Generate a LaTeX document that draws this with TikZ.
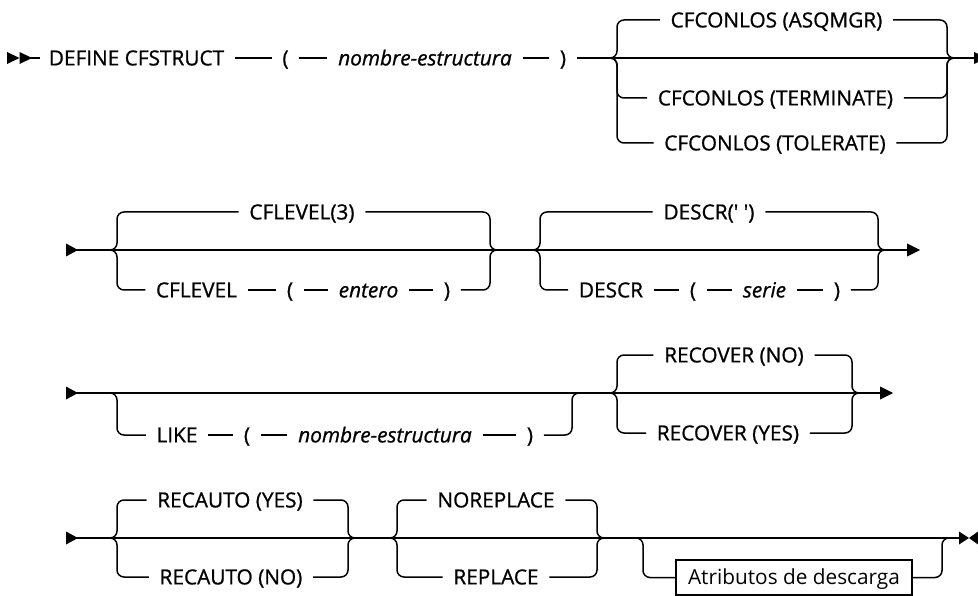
\documentclass[tikz,border=0pt]{standalone}
\usepackage{fontspec}
\setmainfont{Open Sans}[Ligatures=TeXOff]
\newfontfamily\kwfont{Open Sans}[Ligatures=TeXOff,FakeBold=0.9]
\newcommand{\lbranch}[2]{\draw[rc] ([xshift=-7pt]#1) -- (#1) -- (#1|-#2) -- ([xshift=-10pt]#2.west);}
\newcommand{\rbranch}[2]{\draw[rc] ([xshift=10pt]#2.east) -- (#1|-#2) -- (#1) -- ([xshift=7pt]#1);}
\begin{document}
\begin{tikzpicture}[x=1pt,y=-1pt,line width=1.5pt,
  kw/.style={font=\kwfont\fontsize{20.8}{24}\selectfont,inner sep=0pt,text height=14.8pt,text depth=0pt},
  var/.style={kw,font=\kwfont\fontsize{20.8}{24}\selectfont\itshape},
  boxed/.style={draw,line width=1.3pt,font=\fontsize{20.8}{24}\selectfont,inner xsep=7pt,minimum height=35pt,text height=14.8pt,text depth=0pt},
  rc/.style={rounded corners=7pt},
  seg/.style={shorten <=10pt,shorten >=10pt}]
\useasboundingbox (0,0) rectangle (978,596);

% ---------- row 1 ----------
\fill (7,52) -- (19.5,58) -- (7,64) -- cycle;
\fill (19.5,52) -- (32,58) -- (19.5,64) -- cycle;
\coordinate (st1) at (30,58);
\node[kw] (defn) at (136.5,58) {DEFINE CFSTRUCT};
\node[kw] (lp1) at (285.5,58) {(};
\node[var] (nom1) at (425,58) {nombre-estructura};
\node[kw] (rp1) at (563,58) {)};
\coordinate (e1) at (978,58);
\draw[shorten >=8pt] (st1) -- (defn);
\draw[seg] (defn) -- (lp1);
\draw[seg] (lp1) -- (nom1);
\draw[seg] (nom1) -- (rp1);
\draw[shorten <=10pt] (rp1) -- (e1);
\fill (974,52) -- (986,58) -- (974,64) -- cycle;
\coordinate (aL) at (617,58);
\coordinate (aR) at (947,58);
\node[kw] (asq) at (776.5,20) {CFCONLOS (ASQMGR)};
\node[kw] (term) at (775.5,98) {CFCONLOS (TERMINATE)};
\node[kw] (tol) at (775,143) {CFCONLOS (TOLERATE)};
\lbranch{aL}{asq} \rbranch{aR}{asq}
\lbranch{aL}{term} \rbranch{aR}{term}
\lbranch{aL}{tol} \rbranch{aR}{tol}

% ---------- row 2 ----------
\fill (66,243.5) -- (78,250) -- (66,256.5) -- cycle;
\coordinate (st2) at (76,250);
\coordinate (e2) at (910,250);
\draw (st2) -- (e2);
\fill (907,243.5) -- (920,250) -- (907,256.5) -- cycle;
\coordinate (bL) at (117,250);
\coordinate (bR) at (490,250);
\node[kw] (cfl3) at (302,212) {CFLEVEL(3)};
\node[kw] (cfl) at (196.5,290) {CFLEVEL};
\node[kw] (lp2) at (290,290) {(};
\node[var] (ent) at (368.5,290) {entero};
\node[kw] (rp2) at (447,290) {)};
\lbranch{bL}{cfl3} \rbranch{bR}{cfl3}
\lbranch{bL}{cfl}
\draw[seg] (cfl) -- (lp2);
\draw[seg] (lp2) -- (ent);
\draw[seg] (ent) -- (rp2);
\rbranch{bR}{rp2}
\coordinate (cL) at (540,250);
\coordinate (cR) at (878,250);
\node[kw] (dsc0) at (709,212) {DESCR(' ')};
\node[kw] (dsc) at (611,290) {DESCR};
\node[kw] (lp3) at (693,290) {(};
\node[var] (ser) at (764.5,290) {serie};
\node[kw] (rp3) at (837,290) {)};
\lbranch{cL}{dsc0} \rbranch{cR}{dsc0}
\lbranch{cL}{dsc}
\draw[seg] (dsc) -- (lp3);
\draw[seg] (lp3) -- (ser);
\draw[seg] (ser) -- (rp3);
\rbranch{cR}{rp3}

% ---------- row 3 ----------
\fill (66,386.5) -- (78,393) -- (66,399.5) -- cycle;
\coordinate (st3) at (76,393);
\coordinate (e3) at (883,393);
\draw (st3) -- (e3);
\fill (880,386.5) -- (893,393) -- (880,399.5) -- cycle;
\coordinate (dL) at (117,393);
\coordinate (dR) at (572,393);
\node[kw] (like) at (177,435) {LIKE};
\node[kw] (lp4) at (247,435) {(};
\node[var] (nom3) at (385,435) {nombre-estructura};
\node[kw] (rp4) at (530,435) {)};
\lbranch{dL}{like}
\draw[seg] (like) -- (lp4);
\draw[seg] (lp4) -- (nom3);
\draw[seg] (nom3) -- (rp4);
\rbranch{dR}{rp4}
\coordinate (fL) at (617,393);
\coordinate (fR) at (852,393);
\node[kw] (rno) at (734,355) {RECOVER (NO)};
\node[kw] (ryes) at (728,433) {RECOVER (YES)};
\lbranch{fL}{rno} \rbranch{fR}{rno}
\lbranch{fL}{ryes} \rbranch{fR}{ryes}

% ---------- row 4 ----------
\fill (66,531.5) -- (78,538) -- (66,544.5) -- cycle;
\coordinate (st4) at (76,538);
\coordinate (e4) at (960,538);
\draw (st4) -- (e4);
\fill (959,531.5) -- (969,538) -- (959,544.5) -- cycle;
\fill (978,531.5) -- (969,538) -- (978,544.5) -- cycle;
\coordinate (gL) at (117,538);
\coordinate (gR) at (348,538);
\node[kw] (raY) at (230,500) {RECAUTO (YES)};
\node[kw] (raN) at (231,577) {RECAUTO (NO)};
\lbranch{gL}{raY} \rbranch{gR}{raY}
\lbranch{gL}{raN} \rbranch{gR}{raN}
\coordinate (hL) at (397,538);
\coordinate (hR) at (597,538);
\node[kw] (norep) at (496,500) {NOREPLACE};
\node[kw] (rep) at (496,577) {REPLACE};
\lbranch{hL}{norep} \rbranch{hR}{norep}
\lbranch{hL}{rep} \rbranch{hR}{rep}
\coordinate (iL) at (643,538);
\coordinate (iR) at (942,538);
\node[boxed,minimum width=236pt] (attr) at (794,577.5) {Atributos de descarga};
\draw[rc] ([xshift=-7pt]iL) -- (iL) -- (iL|-attr) -- (attr.west);
\draw[rc] (attr.east) -- (iR|-attr) -- (iR) -- ([xshift=7pt]iR);
\end{tikzpicture}
\end{document}
